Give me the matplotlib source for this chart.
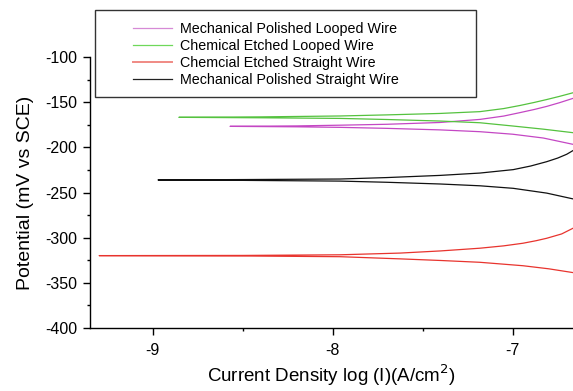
import numpy as np
import matplotlib
matplotlib.use("Agg")
import matplotlib.pyplot as plt
from matplotlib.patches import Rectangle
from matplotlib.ticker import MultipleLocator

plt.rcParams['font.family'] = ['Liberation Sans', 'DejaVu Sans']
plt.rcParams['axes.unicode_minus'] = False

# values: log current (decades), potential (mV vs SCE)
# each curve: cathodic branch (lower) and anodic branch (upper), both from Ecorr
mpl_up_x = [-8.57, -8.2, -7.959, -7.7, -7.404, -7.182, -7.05, -6.960, -6.88, -6.811, -6.74, -6.665]
mpl_up_y = [-176.7, -176.2, -175.4, -174.4, -172.4, -169.0, -165.3, -161.5, -158.0, -154.6, -150.5, -145.7]
mpl_lo_x = [-8.57, -8.2, -7.959, -7.7, -7.404, -7.182, -7.0, -6.83, -6.665]
mpl_lo_y = [-176.7, -177.2, -177.8, -178.9, -180.6, -182.6, -185.4, -189.6, -196.6]

cel_up_x = [-8.854, -8.4, -7.959, -7.7, -7.404, -7.182, -7.05, -6.960, -6.88, -6.811, -6.74, -6.665]
cel_up_y = [-166.7, -166.2, -165.2, -164.0, -162.4, -160.4, -157.0, -153.6, -150.2, -147.0, -143.5, -139.5]
cel_lo_x = [-8.854, -8.4, -7.959, -7.7, -7.404, -7.182, -7.0, -6.83, -6.665]
cel_lo_y = [-166.7, -167.2, -167.9, -169.1, -170.8, -172.7, -176.3, -179.8, -183.7]

ces_up_x = [-9.297, -8.5, -7.959, -7.626, -7.4, -7.182, -7.05, -6.943, -6.87, -6.811, -6.728, -6.665]
ces_up_y = [-319.8, -319.6, -318.9, -317.0, -314.6, -311.6, -309.0, -306.1, -303.3, -300.6, -295.8, -289.5]
ces_lo_x = [-9.297, -8.5, -7.959, -7.626, -7.4, -7.182, -6.943, -6.8, -6.665]
ces_lo_y = [-319.8, -320.2, -321.0, -323.4, -325.2, -327.2, -331.0, -334.4, -338.6]

mps_up_x = [-8.97, -8.5, -7.959, -7.7, -7.404, -7.182, -6.997, -6.9, -6.811, -6.75, -6.7, -6.665]
mps_up_y = [-236.0, -235.6, -235.0, -233.4, -231.0, -228.4, -224.6, -220.6, -215.8, -211.8, -207.6, -203.5]
mps_lo_x = [-8.97, -8.5, -7.959, -7.7, -7.404, -7.182, -6.997, -6.811, -6.665]
mps_lo_y = [-236.0, -236.5, -237.3, -238.6, -240.5, -242.5, -245.3, -250.6, -257.0]

labels = ["Mechanical Polished Looped Wire", "Chemical Etched Looped Wire",
          "Chemcial Etched Straight Wire", "Mechanical Polished Straight Wire"]
colors = ["#c447c4", "#55c23f", "#e8342e", "#111111"]
legend_colors = ["#d68ad6", "#6fd85a", "#f08a84", "#222222"]

series = [
    (mpl_lo_x, mpl_lo_y, mpl_up_x, mpl_up_y),
    (cel_lo_x, cel_lo_y, cel_up_x, cel_up_y),
    (ces_lo_x, ces_lo_y, ces_up_x, ces_up_y),
    (mps_lo_x, mps_lo_y, mps_up_x, mps_up_y),
]

fig = plt.figure(figsize=(5.73, 3.91), dpi=100)
ax = fig.add_axes([0.157, 0.161, 0.843, 0.693])

handles = []
for (lx, ly, ux, uy), c, lc, lab in zip(series, colors, legend_colors, labels):
    x = np.concatenate([lx[::-1], ux[1:]])
    y = np.concatenate([ly[::-1], uy[1:]])
    ax.plot(x, y, color=c, lw=0.9)
    h, = ax.plot([], [], color=lc, lw=1.4 if lab.startswith("Chemcial") else 0.9, label=lab)
    handles.append(h)

ax.set_xlim(-9.348, -6.665)
ax.set_ylim(-400, -100)
ax.xaxis.set_major_locator(MultipleLocator(1))
ax.xaxis.set_minor_locator(MultipleLocator(0.5))
ax.yaxis.set_major_locator(MultipleLocator(50))
ax.yaxis.set_minor_locator(MultipleLocator(25))
ax.spines['top'].set_visible(False)
ax.spines['right'].set_visible(False)
ax.spines['left'].set_linewidth(1.0)
ax.spines['bottom'].set_linewidth(1.0)
ax.tick_params(which='major', direction='out', length=5, width=1.0, labelsize=11.5, pad=4)
ax.tick_params(which='minor', direction='out', length=2.5, width=1.0)
ax.tick_params(axis='x', pad=6)

ax.set_xlabel("Current Density log (I)(A/cm$^2$)", fontsize=13.5, labelpad=3)
ax.set_ylabel("Potential (mV vs SCE)", fontsize=14, labelpad=8)

# legend frame drawn by hand, entries placed inside it
fig.patches.append(Rectangle((95 / 573, 1 - 97 / 391), 381 / 573, 87 / 391,
                             transform=fig.transFigure, fill=False,
                             edgecolor='#333333', lw=1.0))
fig.legend(handles=handles, loc='upper left',
           bbox_to_anchor=(133 / 573, 1 - 22 / 391), fontsize=10.3,
           frameon=False, handlelength=2.75, borderpad=0, borderaxespad=0,
           labelspacing=0.2, handletextpad=0.55)

fig.savefig("out.png", dpi=100)
